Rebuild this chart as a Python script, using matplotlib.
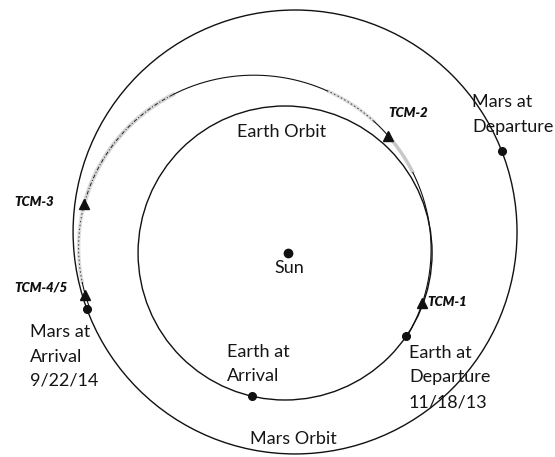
import numpy as np
import matplotlib
matplotlib.use("Agg")
import matplotlib.pyplot as plt
from matplotlib.patches import Circle

# ---------------- data (units: Earth orbit radius = 1, Sun at origin) ----------------
earth_orbit_center = (-0.02, 0.0)
earth_orbit_radius = 1.0
mars_orbit_center = (0.048, 0.143)
mars_orbit_radius = 1.51

# transfer trajectory: conic with focus at the Sun  r = p / (1 + e cos(theta - omega))
transfer_p = 1.156
transfer_e = 0.19
transfer_omega_deg = -8.0
transfer_start_deg = -35.4     # Earth at departure 11/18/13
transfer_end_deg = 195.3       # Mars at arrival 9/22/14

tcm_labels = ["TCM-1", "TCM-2", "TCM-3", "TCM-4/5"]
tcm_angles_deg = [-20.5, 49.5, 166.4, 191.6]

earth_departure_deg = -34.5    # on Earth orbit
earth_arrival_deg = -102.9     # on Earth orbit
mars_departure_deg = 21.3      # on Mars orbit
mars_arrival_deg = 200.3       # on Mars orbit

# ---------------- figure ----------------
W, H = 555, 457
fig = plt.figure(figsize=(W / 100, H / 100), dpi=100)
ax = fig.add_axes([0, 0, 1, 1])
SUN_PX = (288, 253)
SCALE = 147.0

def px(x, y):
    """pixel position -> data position (for text placement)"""
    return ((x - SUN_PX[0]) / SCALE, (SUN_PX[1] - y) / SCALE)

x0, y0 = px(0, H)
x1, y1 = px(W, 0)
ax.set_xlim(x0, x1)
ax.set_ylim(y0, y1)
ax.set_aspect("equal")
ax.axis("off")

def circle_xy(center, radius, deg):
    t = np.radians(deg)
    return center[0] + radius * np.cos(t), center[1] + radius * np.sin(t)

def transfer_xy(deg):
    t = np.radians(deg)
    r = transfer_p / (1 + transfer_e * np.cos(t - np.radians(transfer_omega_deg)))
    return r * np.cos(t), r * np.sin(t)

ax.add_patch(Circle(earth_orbit_center, earth_orbit_radius, fill=False,
                    ec="#111111", lw=1.0, zorder=2))
ax.add_patch(Circle(mars_orbit_center, mars_orbit_radius, fill=False,
                    ec="#111111", lw=1.0, zorder=2))

# transfer trajectory, drawn in pieces to mimic the scanned (partly faded) line
segments = [  # (from, to, style)
    (transfer_start_deg, 33, "solid"),
    (33, 48, "faint"),
    (48, 57, "solid"),
    (57, 76, "dotted"),
    (76, 126, "solid"),
    (126, 168, "dashdot"),
    (168, 188, "dotted"),
    (188, transfer_end_deg, "solid"),
]
for a, b, style in segments:
    th = np.linspace(a, b, 200)
    tx, ty = transfer_xy(th)
    if style == "solid":
        ax.plot(tx, ty, color="#111111", lw=0.8, zorder=3, solid_capstyle="butt")
    elif style == "faint":
        ax.plot(tx, ty, color="#c8c8c8", lw=2.5, zorder=2.5, solid_capstyle="round")
    elif style == "dotted":
        ax.plot(tx, ty, color="#dddddd", lw=2.5, zorder=2.5)
        ax.plot(tx, ty, color="#333333", lw=0.7, ls=(0, (1.5, 2.5)), zorder=3)
    else:
        ax.plot(tx, ty, color="#d6d6d6", lw=3, zorder=2.5)
        ax.plot(tx, ty, color="#222222", lw=0.7, ls=(0, (4, 2, 1, 2)), zorder=3)

# TCM triangles
for lab, deg in zip(tcm_labels, tcm_angles_deg):
    tx, ty = transfer_xy(deg)
    ax.plot(tx, ty, marker="^", ms=6.5, color="#111111", mec="#111111", zorder=4)

# dots
ax.plot(0.0, 0.0, "o", ms=6, color="#111111", zorder=4)
for center, rad, deg in [
    (earth_orbit_center, earth_orbit_radius, earth_departure_deg),
    (earth_orbit_center, earth_orbit_radius, earth_arrival_deg),
    (mars_orbit_center, mars_orbit_radius, mars_departure_deg),
    (mars_orbit_center, mars_orbit_radius, mars_arrival_deg),
]:
    dx, dy = circle_xy(center, rad, deg)
    ax.plot(dx, dy, "o", ms=5.5, color="#111111", zorder=4)

# ---------------- text ----------------
FONT = ["Lato", "DejaVu Sans"]
BIG = 13
TCM_FS = 9.5

def lines(x, ys, texts, ha="left"):
    for yy, t in zip(ys, texts):
        ax.text(*px(x, yy), t, fontsize=BIG, family=FONT, ha=ha, va="center",
                color="#151515", zorder=5)

tcm_pos = {"TCM-1": (427, 302, "left"), "TCM-2": (408, 113, "center"),
           "TCM-3": (34, 202, "center"), "TCM-4/5": (41, 288, "center")}
for lab in tcm_labels:
    x, y, ha = tcm_pos[lab]
    ax.text(*px(x, y), lab, fontsize=TCM_FS, family=FONT, fontweight="heavy",
            fontstyle="italic", ha=ha, va="center", color="#111111", zorder=5)

lines(472, [102, 127], ["Mars at", "Departure"])
lines(282, [132], ["Earth Orbit"], ha="center")
lines(289, [268], ["Sun"], ha="center")
lines(30, [332, 357, 381], ["Mars at", "Arrival", "9/22/14"])
lines(227, [352, 376], ["Earth at", "Arrival"])
lines(409, [353, 377, 402], ["Earth at", "Departure", "11/18/13"])
lines(293, [439], ["Mars Orbit"], ha="center")

fig.savefig("out.png", dpi=100, facecolor="white")
